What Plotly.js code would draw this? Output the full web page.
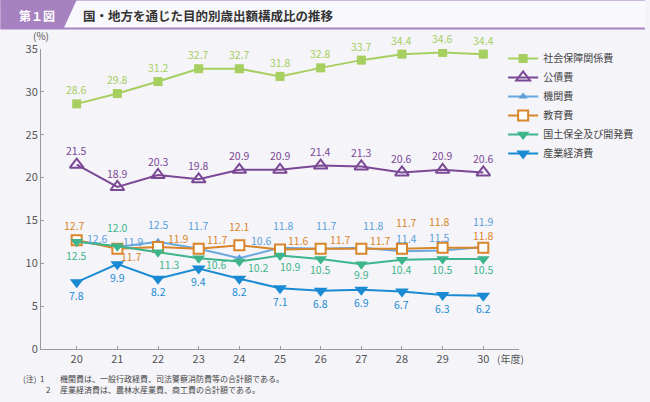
<!DOCTYPE html>
<html><head><meta charset="utf-8">
<script src="https://cdn.plot.ly/plotly-3.0.1.min.js"></script>
<style>html,body{margin:0;padding:0;background:#f5f4f9;}#chart{width:650px;height:402px;}</style>
</head><body><div id="chart"></div>
<script>
// ---- data ----
const years = [20, 21, 22, 23, 24, 25, 26, 27, 28, 29, 30];
const yearLabels = ["20","21","22","23","24","25","26","27","28","29","30"];
const seriesNames = ["社会保障関係費","公債費","機関費","教育費","国土保全及び開発費","産業経済費"];
const shakaiHosho = [28.6, 29.8, 31.2, 32.7, 32.7, 31.8, 32.8, 33.7, 34.4, 34.6, 34.4];
const kosaihi     = [21.5, 18.9, 20.3, 19.8, 20.9, 20.9, 21.4, 21.3, 20.6, 20.9, 20.6];
const kikanhi     = [12.6, 11.9, 12.5, 11.7, 10.6, 11.8, 11.7, 11.8, 11.4, 11.5, 11.9];
const kyoikuhi    = [12.7, 11.7, 11.9, 11.7, 12.1, 11.6, 11.7, 11.7, 11.7, 11.8, 11.8];
const kokudo      = [12.5, 12.0, 11.3, 10.6, 10.2, 10.9, 10.5, 9.9, 10.4, 10.5, 10.5];
const sangyo      = [7.8, 9.9, 8.2, 9.4, 8.2, 7.1, 6.8, 6.9, 6.7, 6.3, 6.2];
const yTicks = [0, 5, 10, 15, 20, 25, 30, 35];

// ---- layout geometry (pixels) ----
const W = 650, H = 402;
const L = 41, R = 523, T = 49, B = 349;
const px2x = p => (p - L) / (R - L);
const py2y = p => (B - p) / (B - T);
const FONT = '"Noto Sans CJK JP", "Noto Sans", sans-serif';

// label offsets (dx, dy in px) per point - styling only
const up14 = years.map(() => [0, 14]);
const down13 = years.map(() => [0, -13]);
const offKikan  = [[21,3],[16,6],[0,17],[0,23],[22,18],[3,22],[6,23],[12,22],[5,13],[-3,13],[0,26]];
const offKyoiku = [[-2,15],[14,-8],[20,9],[19,9],[0,19],[18,9],[20,9],[19,8],[5,26],[-3,26],[0,12]];
const offKokudo = [[0,-14],[0,19],[11,-12],[18,-6],[19,-6],[10,-11],[0,-10],[0,-10],[0,-10],[0,-10],[0,-10]];

const styles = {
  "社会保障関係費": {color:'#a6cf5f', line:'#a6cf5f', symbol:'square', size:9, fill:'#a6cf5f', lw:0, rank:1, vals:shakaiHosho, off:up14},
  "公債費": {color:'#7a4895', line:'#7a4895', symbol:'triangle-up-open', size:12, fill:'#7a4895', lw:2, rank:2, vals:kosaihi, off:up14},
  "機関費": {color:'#5a9fdb', line:'#6aa8de', symbol:'triangle-up', size:8, fill:'#5a9fdb', lw:0, rank:3, vals:kikanhi, off:offKikan},
  "教育費": {color:'#d9852a', line:'#d9852a', symbol:'square', size:10, fill:'#ffffff', lw:2, rank:4, vals:kyoikuhi, off:offKyoiku},
  "国土保全及び開発費": {color:'#3db48a', line:'#3db48a', symbol:'triangle-down', size:11, fill:'#3db48a', lw:0, rank:5, vals:kokudo, off:offKokudo},
  "産業経済費": {color:'#1a8bd3', line:'#1a8bd3', symbol:'triangle-down', size:12, fill:'#1a8bd3', lw:0, rank:6, vals:sangyo, off:down13}
};
const drawOrder = ["機関費","教育費","国土保全及び開発費","産業経済費","公債費","社会保障関係費"];

const traces = drawOrder.map(n => {
  const s = styles[n];
  return {
    type:'scatter', mode:'lines+markers', name:n, x:years, y:s.vals,
    line:{color:s.line, width:2},
    marker:{symbol:s.symbol, size:s.size, color:s.fill, line:{color:s.color, width:s.lw}},
    legendrank:s.rank, hoverinfo:'skip'
  };
});

const annotations = [];
seriesNames.forEach(n => {
  const s = styles[n];
  s.vals.forEach((v, i) => {
    annotations.push({x:years[i], y:v, xref:'x', yref:'y', text:v.toFixed(1), showarrow:false,
      xshift:s.off[i][0], yshift:s.off[i][1], xanchor:'center', yanchor:'middle',
      font:{family:FONT, size:10.5, color:s.color}});
  });
});
// texts outside the plot
annotations.push({xref:'paper', yref:'paper', x:px2x(41), y:py2y(35), text:'(%)', showarrow:false, xanchor:'center', yanchor:'middle', font:{family:FONT, size:10, color:'#555'}});
annotations.push({xref:'paper', yref:'paper', x:px2x(499), y:py2y(358), text:'(年度)', showarrow:false, xanchor:'left', yanchor:'middle', font:{family:FONT, size:10, color:'#555'}});
annotations.push({xref:'paper', yref:'paper', x:px2x(37), y:py2y(15), text:'<b>第１図</b>', showarrow:false, xanchor:'center', yanchor:'middle', font:{family:FONT, size:12, color:'#ffffff'}});
annotations.push({xref:'paper', yref:'paper', x:px2x(81), y:py2y(15), text:'<b>国・地方を通じた目的別歳出額構成比の推移</b>', showarrow:false, xanchor:'left', yanchor:'middle', font:{family:FONT, size:12.5, color:'#333333'}});
annotations.push({xref:'paper', yref:'paper', x:px2x(21), y:py2y(378), text:'(注)  1', showarrow:false, xanchor:'left', yanchor:'middle', font:{family:FONT, size:8, color:'#444'}});
annotations.push({xref:'paper', yref:'paper', x:px2x(58), y:py2y(378), text:'機関費は、一般行政経費、司法警察消防費等の合計額である。', showarrow:false, xanchor:'left', yanchor:'middle', font:{family:FONT, size:8, color:'#444'}});
annotations.push({xref:'paper', yref:'paper', x:px2x(44), y:py2y(389), text:'2', showarrow:false, xanchor:'left', yanchor:'middle', font:{family:FONT, size:8, color:'#444'}});
annotations.push({xref:'paper', yref:'paper', x:px2x(58), y:py2y(389), text:'産業経済費は、農林水産業費、商工費の合計額である。', showarrow:false, xanchor:'left', yanchor:'middle', font:{family:FONT, size:8, color:'#444'}});

const shapes = [
  {type:'rect', xref:'paper', yref:'paper', x0:px2x(0), x1:px2x(W), y0:py2y(0), y1:py2y(28), fillcolor:'#f9f8fc', line:{width:0}, layer:'below'},
  {type:'line', xref:'paper', yref:'paper', x0:px2x(0), x1:px2x(W), y0:py2y(0.5), y1:py2y(0.5), line:{color:'#cbb6dc', width:1}},
  {type:'path', xref:'paper', yref:'paper',
   path:`M${px2x(0)},${py2y(0)} L${px2x(77)},${py2y(0)} L${px2x(64)},${py2y(28)} L${px2x(0)},${py2y(28)} Z`,
   fillcolor:'#a782c1', line:{width:0}},
  {type:'line', xref:'paper', yref:'paper', x0:px2x(0), x1:px2x(W), y0:py2y(28.5), y1:py2y(28.5), line:{color:'#a782c1', width:2}}
];

const layout = {
  width:W, height:H, margin:{l:L, r:W-R, t:T, b:H-B, pad:0},
  paper_bgcolor:'#f5f4f9', plot_bgcolor:'#f5f4f9',
  font:{family:FONT, color:'#555'},
  showlegend:true,
  legend:{x:px2x(507), y:py2y(44), xanchor:'left', yanchor:'top', bgcolor:'rgba(0,0,0,0)',
          font:{family:FONT, size:10, color:'#444'}, itemwidth:30, tracegroupgap:0},
  xaxis:{range:[20 - 36/41, 30 + 36/41], tickmode:'array', tickvals:years, ticktext:yearLabels,
         ticks:'inside', ticklen:3, tickcolor:'#999', showline:true, linecolor:'#999', linewidth:1,
         showgrid:false, zeroline:false, tickfont:{family:FONT, size:11, color:'#555'}, fixedrange:true},
  yaxis:{range:[0, 35], tickmode:'array', tickvals:yTicks, ticks:'inside', ticklen:3, tickcolor:'#999',
         showline:true, linecolor:'#999', linewidth:1, showgrid:false, zeroline:false,
         tickfont:{family:FONT, size:11, color:'#555'}, fixedrange:true},
  annotations:annotations, shapes:shapes
};
Plotly.newPlot('chart', traces, layout, {displayModeBar:false, staticPlot:true});
</script></body></html>
